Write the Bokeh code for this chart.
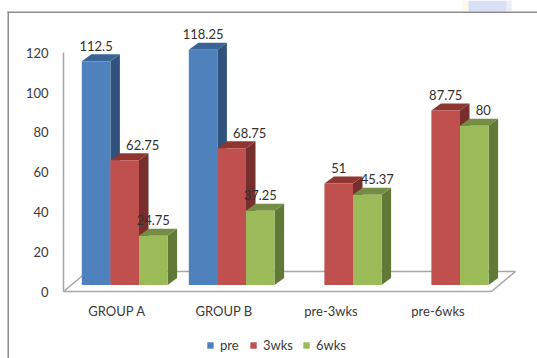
from bokeh.core.properties import value
from bokeh.embed import file_html
from bokeh.models import BoxAnnotation, ColumnDataSource, FixedTicker, Legend, LegendItem, Range1d
from bokeh.plotting import figure
from bokeh.resources import INLINE

# Measurements by group; None marks a bar that was not reported.
categories = ["GROUP A", "GROUP B", "pre-3wks", "pre-6wks"]
series_names = ["pre", "3wks", "6wks"]
pre = [112.5, 118.25, None, None]
wks3 = [62.75, 68.75, 51, 87.75]
wks6 = [24.75, 37.25, 45.37, 80]
y_ticks = [0, 20, 40, 60, 80, 100, 120]

# Face colours of each series: front, top, side.
palette = {
    "pre": ("#4F81BD", "#3A6596", "#31527C"),
    "3wks": ("#C0504D", "#8F3633", "#772F2D"),
    "6wks": ("#9BBB59", "#748C43", "#617836"),
}

# Extra sideways shift of a label, in pixels, where the label sits off its bar.
label_shift = {
    "pre": [0, 0, 0, 0],
    "3wks": [18, 18, 0, 0],
    "6wks": [0, 0, 10, 9],
}

# Pseudo-3D projection, in axis units.
PX_X = 107.0
PX_Y = 1.99
BAR_W = 28.6 / PX_X
SHIFT_X = 7.7 / PX_X       # bars stand a little behind the front edge of the floor
BASE = 6.5 / PX_Y
DEPTH_X = 9.5 / PX_X
DEPTH_Y = 7.0 / PX_Y
FLOOR_X = 24.0 / PX_X
FLOOR_Y = 20.0 / PX_Y
WIDTH, HEIGHT = 537, 358
LEFT, BOTTOM = 63, 291     # canvas position of the plot origin

GREY = "#A6A6A6"
TEXT = "#3A3A3A"
FONT = "Lato"


def canvas_box(x0, x1, y0, y1, colour, alpha=1.0):
    """A filled box given in canvas pixels, converted to axis units."""
    return BoxAnnotation(left=(x0 - LEFT) / PX_X, right=(x1 - LEFT) / PX_X,
                         top=(BOTTOM - y0) / PX_Y, bottom=(BOTTOM - y1) / PX_Y,
                         fill_color=colour, fill_alpha=alpha, line_color=None)


p = figure(
    width=WIDTH, height=HEIGHT, output_backend="svg", toolbar_location=None,
    x_range=Range1d(-LEFT / PX_X, (WIDTH - LEFT) / PX_X),
    y_range=Range1d((BOTTOM - HEIGHT) / PX_Y, BOTTOM / PX_Y),
    min_border=0,
)
p.outline_line_color = None
p.grid.visible = False
p.background_fill_color = "white"
p.border_fill_color = "white"

# Chart border and the pale shape above it.
p.add_layout(canvas_box(462, 468, 0, 11, "#FBF6DC", 0.7))
p.add_layout(canvas_box(468, 506, 0, 11, "#D9DFF5"))
p.add_layout(canvas_box(506, 511, 0, 11, "#E4E6F4", 0.7))
p.add_layout(canvas_box(7, 537, 11, 12.5, "#8C8C8C"))
p.add_layout(canvas_box(7, 8.5, 11, 358, "#8C8C8C"))

# Floor of the 3D plot.
n = len(categories)
p.patch([0, n, n + FLOOR_X, FLOOR_X], [0, 0, FLOOR_Y, FLOOR_Y],
        fill_color="white", line_color=GREY, line_width=1.5)

# Bars, left to right so each one overlaps the side of its neighbour.
legend_items = []
label_x, label_y, label_text, label_dx = [], [], [], []
for s, (name, values) in enumerate(zip(series_names, [pre, wks3, wks6])):
    front, top_face, side = palette[name]
    xs, tops = [], []
    for i, v in enumerate(values):
        if v is None:
            continue
        x = i + 0.5 + SHIFT_X + (s - 1) * BAR_W
        xs.append(x)
        tops.append(BASE + v)
        label_x.append(x)
        label_y.append(BASE + v)
        label_text.append(f"{v:g}")
        label_dx.append(label_shift[name][i])
    src = ColumnDataSource(dict(
        x=xs, top=tops,
        side_x=[[x + BAR_W / 2, x + BAR_W / 2 + DEPTH_X, x + BAR_W / 2 + DEPTH_X, x + BAR_W / 2] for x in xs],
        side_y=[[BASE, BASE + DEPTH_Y, t + DEPTH_Y, t] for t in tops],
        top_x=[[x - BAR_W / 2, x + BAR_W / 2, x + BAR_W / 2 + DEPTH_X, x - BAR_W / 2 + DEPTH_X] for x in xs],
        top_y=[[t, t, t + DEPTH_Y, t + DEPTH_Y] for t in tops],
    ))
    p.patches("side_x", "side_y", source=src, fill_color=side, line_color=None)
    p.patches("top_x", "top_y", source=src, fill_color=top_face, line_color=None)
    bar = p.vbar(x="x", width=BAR_W, bottom=BASE, top="top", source=src, fill_color=front, line_color=None)
    legend_items.append(LegendItem(label=name, renderers=[bar]))

labels = ColumnDataSource(dict(x=label_x, y=label_y, text=label_text, dx=label_dx))
p.text("x", "y", text="text", source=labels, x_offset="dx", y_offset=-15.5,
       text_align="center", text_baseline="middle", text_font=value(FONT),
       text_font_size="13px", text_color="#303030")

# Axes, pinned to the plot origin rather than the frame edge.
yaxis = p.yaxis[0]
yaxis.fixed_location = 0
yaxis.ticker = FixedTicker(ticks=y_ticks)
yaxis.bounds = (0, 120)
yaxis.major_tick_line_color = None
yaxis.minor_tick_line_color = None
yaxis.axis_line_color = GREY
yaxis.axis_line_width = 1.5
yaxis.major_label_standoff = 9
yaxis.major_label_text_font = FONT
yaxis.major_label_text_font_size = "13px"
yaxis.major_label_text_color = TEXT

xaxis = p.xaxis[0]
xaxis.fixed_location = 0
centres = [i + 0.5 for i in range(n)]
xaxis.ticker = FixedTicker(ticks=centres)
xaxis.major_label_overrides = {c: name for c, name in zip(centres, categories)}
xaxis.bounds = (0, n)
xaxis.major_tick_line_color = None
xaxis.minor_tick_line_color = None
xaxis.axis_line_color = None
xaxis.major_label_standoff = 5
xaxis.major_label_text_font = FONT
xaxis.major_label_text_font_size = "13px"
xaxis.major_label_text_color = TEXT

legend = Legend(items=legend_items, orientation="horizontal", location=(206, 5),
                border_line_color=None, background_fill_alpha=0,
                glyph_width=8, glyph_height=8, label_standoff=6, spacing=9, padding=3, margin=0,
                label_text_font=FONT, label_text_font_size="13px", label_text_color=TEXT)
p.add_layout(legend)

open("out.html", "w").write(file_html(p, INLINE))
